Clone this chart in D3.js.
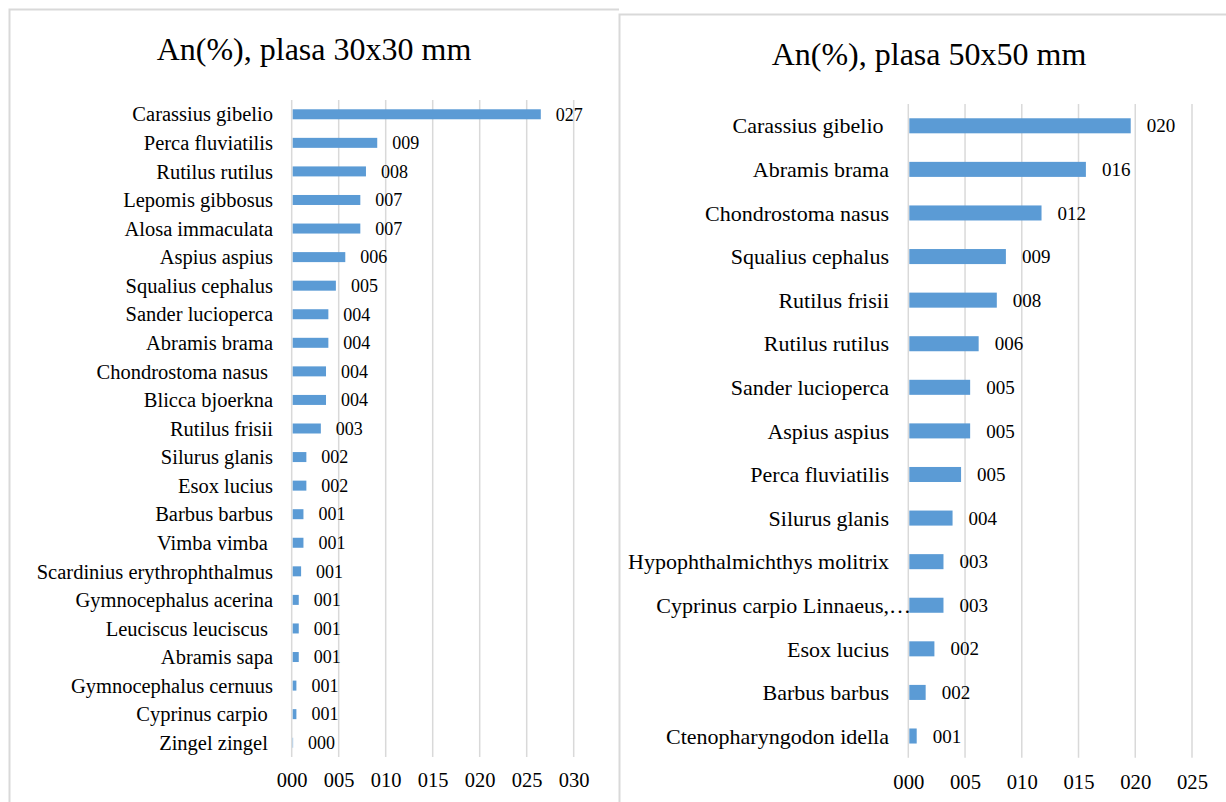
<!DOCTYPE html>
<html>
<head>
<meta charset="utf-8">
<script src="https://cdn.jsdelivr.net/npm/d3@7"></script>
<style>
  html, body { margin: 0; padding: 0; background: #fff; }
  svg { display: block; }
  text { font-family: "Liberation Serif", "Times New Roman", serif; fill: #000; }
</style>
</head>
<body>
<svg id="chart" width="1226" height="802"></svg>
<script>
// ---------- DATA ----------
const leftTitle = "An(%), plasa 30x30 mm";
const leftCategories = [
  "Carassius gibelio", "Perca fluviatilis", "Rutilus rutilus", "Lepomis gibbosus",
  "Alosa immaculata", "Aspius aspius", "Squalius cephalus", "Sander lucioperca",
  "Abramis brama", "Chondrostoma nasus ", "Blicca bjoerkna", "Rutilus frisii",
  "Silurus glanis", "Esox lucius", "Barbus barbus", "Vimba vimba ",
  "Scardinius erythrophthalmus", "Gymnocephalus acerina", "Leuciscus leuciscus ",
  "Abramis sapa", "Gymnocephalus cernuus", "Cyprinus carpio ", "Zingel zingel "
];
const leftValues = [
  26.5, 9.1, 7.9, 7.3, 7.3, 5.7, 4.7, 3.9, 3.9, 3.65, 3.65, 3.1,
  1.56, 1.56, 1.25, 1.25, 1.0, 0.75, 0.75, 0.75, 0.5, 0.5, 0.15
];
const leftTicks = [0, 5, 10, 15, 20, 25, 30];

const rightTitle = "An(%), plasa 50x50 mm";
const rightCategories = [
  "Carassius gibelio ", "Abramis brama", "Chondrostoma nasus", "Squalius cephalus",
  "Rutilus frisii", "Rutilus rutilus", "Sander lucioperca", "Aspius aspius",
  "Perca fluviatilis", "Silurus glanis", "Hypophthalmichthys molitrix",
  "Cyprinus carpio Linnaeus,…", "Esox lucius", "Barbus barbus", "Ctenopharyngodon idella"
];
const rightValues = [
  19.6, 15.65, 11.74, 8.6, 7.8, 6.2, 5.45, 5.45, 4.65, 3.9, 3.1, 3.1, 2.3, 1.53, 0.74
];
const rightTicks = [0, 5, 10, 15, 20, 25];

// ---------- STYLE ----------
const barColor = "#5B9BD5";
const gridColor = "#D9D9D9";
const fmt = d3.format("03.0f");

const svg = d3.select("#chart");

// panel borders
svg.append("path")
  .attr("d", "M9.5,802 L9.5,9.5 L619,9.5")
  .attr("fill", "none").attr("stroke", gridColor).attr("stroke-width", 2);
svg.append("path")
  .attr("d", "M619.5,802 L619.5,14.5 L1226,14.5")
  .attr("fill", "none").attr("stroke", gridColor).attr("stroke-width", 2);

function drawPanel(cfg) {
  const g = svg.append("g");
  const x = d3.scaleLinear().domain([cfg.ticks[0], cfg.ticks[cfg.ticks.length - 1]]).range(cfg.xRange);
  const pad = cfg.padding;
  const y = d3.scaleBand().domain(cfg.categories).range(cfg.yRange)
    .paddingInner(pad).paddingOuter(pad / 2);

  // title
  g.append("text")
    .attr("x", cfg.titleX).attr("y", cfg.titleY)
    .attr("text-anchor", "middle")
    .style("font-size", "32px")
    .text(cfg.title);

  // gridlines
  g.append("g").selectAll("line").data(cfg.ticks).join("line")
    .attr("x1", d => x(d)).attr("x2", d => x(d))
    .attr("y1", cfg.yRange[0]).attr("y2", cfg.yRange[1])
    .attr("stroke", gridColor).attr("stroke-width", 1.5);

  // x axis labels (axis generator, domain/ticks hidden)
  const xAxis = d3.axisBottom(x).tickValues(cfg.ticks).tickFormat(fmt).tickSize(0).tickPadding(0);
  const ax = g.append("g").attr("transform", `translate(0,${cfg.tickY})`).call(xAxis);
  ax.select(".domain").remove();
  ax.selectAll("text")
    .attr("dy", "0.35em").attr("y", 0)
    .style("font-family", '"Liberation Serif", "Times New Roman", serif')
    .style("font-size", cfg.tickFont + "px").attr("fill", "#000");

  const rows = cfg.categories.map((c, i) => ({ c, v: cfg.values[i] }));

  // bars
  g.append("g").selectAll("rect").data(rows).join("rect")
    .attr("x", x(0) + 1)
    .attr("y", d => y(d.c))
    .attr("width", d => Math.max(0, x(d.v) - x(0) - 1))
    .attr("height", y.bandwidth())
    .attr("fill", barColor);

  // category labels
  const ellipsis = "…";
  g.append("g").selectAll("text").data(rows).join("text")
    .attr("x", cfg.catX)
    .attr("y", d => y(d.c) + y.bandwidth() / 2)
    .attr("dy", "0.35em")
    .attr("text-anchor", "end")
    .style("font-size", cfg.catFont + "px")
    .style("white-space", "pre")
    .text(d => d.c.endsWith(ellipsis) ? d.c.slice(0, -1) : d.c);
  // truncated-label ellipsis continues past the label edge
  g.append("g").selectAll("text").data(rows.filter(d => d.c.endsWith(ellipsis))).join("text")
    .attr("x", cfg.catX)
    .attr("y", d => y(d.c) + y.bandwidth() / 2)
    .attr("dy", "0.35em")
    .style("font-size", cfg.catFont + "px")
    .text(ellipsis);

  // data labels
  g.append("g").selectAll("text").data(rows).join("text")
    .attr("x", d => x(d.v) + cfg.labelGap)
    .attr("y", d => y(d.c) + y.bandwidth() / 2)
    .attr("dy", "0.35em")
    .style("font-size", cfg.labelFont + "px")
    .text(d => fmt(d.v));
}

drawPanel({
  title: leftTitle, titleX: 314, titleY: 60,
  categories: leftCategories, values: leftValues, ticks: leftTicks,
  xRange: [291.7, 573.7], yRange: [100, 757], padding: 0.65,
  catX: 273, catFont: 20.5, labelFont: 18, labelGap: 15,
  tickY: 780, tickFont: 20.5
});

drawPanel({
  title: rightTitle, titleX: 929, titleY: 65,
  categories: rightCategories, values: rightValues, ticks: rightTicks,
  xRange: [908.3, 1192], yRange: [104, 757.8], padding: 0.655,
  catX: 889, catFont: 22, labelFont: 19, labelGap: 16,
  tickY: 782, tickFont: 20.7
});
</script>
</body>
</html>
